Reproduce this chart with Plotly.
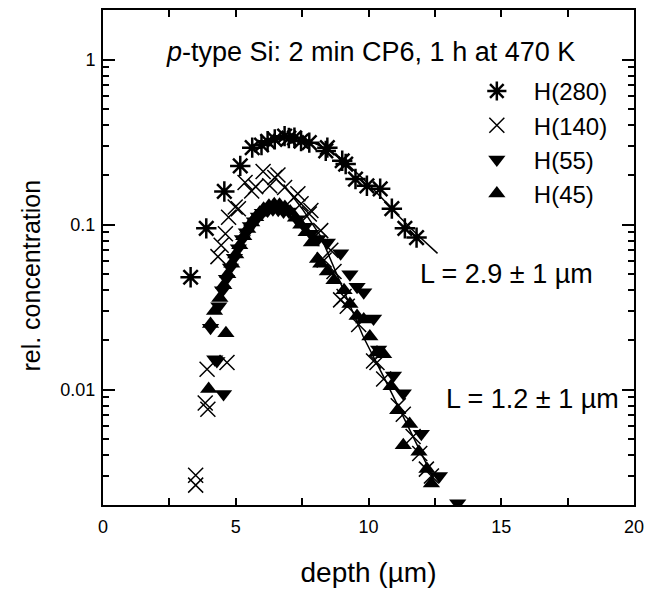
import plotly.graph_objects as go

# H(280) asterisks
h280_x = [3.3, 3.89, 4.57, 5.17, 5.62, 5.97, 6.2, 6.47, 6.84, 7.0, 7.21, 7.46, 7.77, 8.39, 8.45,
          9.01, 9.14, 9.51, 9.94, 10.44, 10.88, 11.37, 11.81]
h280_y = [0.048, 0.095, 0.159, 0.227, 0.293, 0.304, 0.32, 0.329, 0.344, 0.335, 0.336, 0.321, 0.314,
          0.28, 0.293, 0.244, 0.233, 0.189, 0.172, 0.165, 0.125, 0.095, 0.0835]

# H(140) crosses
h140_x = [3.49, 3.49, 3.85, 3.95, 3.92, 4.67, 4.33, 4.45, 4.61, 4.73, 4.98, 5.1, 5.35, 5.6, 5.75,
          6.03, 6.28, 6.47, 6.59, 6.84, 7.21, 7.34, 7.46, 7.77, 7.83, 8.2, 8.33, 8.58, 8.7, 8.95,
          9.08, 9.2, 9.63, 10.19, 10.32, 10.57, 11.12, 11.31, 11.68, 11.93, 12.18, 12.37]
h140_y = [0.00303, 0.00264, 0.0083, 0.0076, 0.0133, 0.0146, 0.064, 0.075, 0.088, 0.111, 0.128, 0.125,
          0.18, 0.16, 0.17, 0.21, 0.172, 0.193, 0.2, 0.168, 0.147, 0.154, 0.134, 0.116, 0.122, 0.092,
          0.061, 0.07, 0.052, 0.035, 0.0367, 0.032, 0.0248, 0.0149, 0.0146, 0.0116, 0.008, 0.0071,
          0.0052, 0.0041, 0.0033, 0.003]

# H(55) down triangles
h55_x = [4.05, 4.21, 4.29, 4.36, 4.54, 4.5, 4.65, 4.8, 4.95, 5.1, 5.25, 5.4, 5.55, 5.7, 5.85, 6.0,
         6.2, 6.4, 6.6, 6.8, 7.0, 7.3, 7.6, 7.83, 8.1, 8.45, 8.95, 9.3, 9.57, 9.82, 10.19, 10.38,
         10.94, 11.31, 11.99, 12.67, 13.36]
h55_y = [0.0237, 0.0153, 0.0149, 0.032, 0.0094, 0.04, 0.047, 0.055, 0.063, 0.072, 0.082, 0.09, 0.098,
         0.105, 0.112, 0.118, 0.122, 0.124, 0.123, 0.12, 0.12, 0.108, 0.097, 0.088, 0.082, 0.078,
         0.067, 0.05, 0.042, 0.039, 0.027, 0.0175, 0.0122, 0.0095, 0.0054, 0.003, 0.00205]

# H(45) up triangles
h45_x = [3.98, 4.05, 4.2, 4.4, 4.63, 4.55, 4.7, 4.85, 5.0, 5.15, 5.3, 5.45, 5.6, 5.75, 5.9, 6.05,
         6.25, 6.45, 6.65, 6.85, 7.05, 7.25, 7.45, 7.65, 7.85, 8.08, 8.2, 8.45, 8.7, 9.08, 9.3,
         9.57, 9.82, 10.05, 10.32, 10.57, 10.85, 11.1, 11.31, 11.55, 11.9, 12.2, 12.37]
h45_y = [0.0101, 0.025, 0.03, 0.036, 0.022, 0.043, 0.05, 0.058, 0.066, 0.075, 0.085, 0.094, 0.103,
         0.111, 0.118, 0.125, 0.13, 0.133, 0.132, 0.128, 0.12, 0.11, 0.1, 0.09, 0.078, 0.062, 0.058,
         0.052, 0.046, 0.04, 0.033, 0.028, 0.0266, 0.021, 0.0168, 0.0164, 0.0105, 0.0075, 0.0046,
         0.0062, 0.0042, 0.0033, 0.0027]

# fit curves
fit1_x = [6.3, 7.0, 7.7, 8.4, 9.1, 9.8, 10.5, 11.2, 11.9, 12.6]
fit1_y = [0.335, 0.34, 0.325, 0.29, 0.24, 0.19, 0.145, 0.11, 0.085, 0.067]
fit2_x = [6.8, 7.5, 8.2, 9.0, 9.8, 10.6, 11.4, 12.45]
fit2_y = [0.175, 0.125, 0.085, 0.042, 0.021, 0.0117, 0.0064, 0.0029]

x_ticks = [0, 5, 10, 15, 20]
y_ticks = [0.01, 0.1, 1]
y_ticktext = ["0.01", "0.1", "1"]
y_minor = [0.003, 0.004, 0.005, 0.006, 0.007, 0.008, 0.009,
           0.02, 0.03, 0.04, 0.05, 0.06, 0.07, 0.08, 0.09,
           0.2, 0.3, 0.4, 0.5, 0.6, 0.7, 0.8, 0.9]
y_range = [-2.699, 0.301]

font = "Liberation Sans, Arial, Helvetica, sans-serif"

fig = go.Figure()

fig.add_trace(go.Scatter(x=fit1_x, y=fit1_y, mode="lines", line=dict(color="black", width=1.5),
                         showlegend=False, hoverinfo="skip"))
fig.add_trace(go.Scatter(x=fit2_x, y=fit2_y, mode="lines", line=dict(color="black", width=1.5),
                         showlegend=False, hoverinfo="skip"))

fig.add_trace(go.Scatter(x=h280_x, y=h280_y, mode="markers", name="H(280)",
                         marker=dict(symbol="asterisk-open", size=17, color="black",
                                     line=dict(width=2.5, color="black"))))
fig.add_trace(go.Scatter(x=h140_x, y=h140_y, mode="markers", name="H(140)",
                         marker=dict(symbol="x-thin-open", size=15, color="black",
                                     line=dict(width=1.5, color="black"))))
fig.add_trace(go.Scatter(x=h55_x, y=h55_y, mode="markers", name="H(55)",
                         marker=dict(symbol="triangle-down", size=15, color="black")))
fig.add_trace(go.Scatter(x=h45_x, y=h45_y, mode="markers", name="H(45)",
                         marker=dict(symbol="triangle-up", size=15, color="black")))

axis_common = dict(showline=True, linewidth=2, linecolor="black", mirror="ticks",
                   ticks="inside", tickcolor="black", tickwidth=1.5, showgrid=False,
                   zeroline=False, tickfont=dict(family=font, size=18, color="black"))

fig.update_xaxes(range=[0, 20], tickvals=x_ticks, ticklen=7, ticklabelstandoff=4,
                 minor=dict(dtick=2.5, ticks="inside", ticklen=7, tickcolor="black", tickwidth=1.5),
                 title=dict(text="depth (µm)", font=dict(family=font, size=28, color="black"), standoff=27),
                 **axis_common)
fig.update_yaxes(type="log", range=y_range, tickvals=y_ticks, ticktext=y_ticktext, ticklen=12,
                 ticklabelstandoff=2,
                 minor=dict(tickvals=y_minor, ticks="inside", ticklen=6, tickcolor="black", tickwidth=1.5),
                 **axis_common)

# y title sits a little below the axis middle in the original, so place it by hand
fig.add_annotation(x=-0.136, y=0.463, xref="paper", yref="paper", xanchor="center", yanchor="middle",
                   text="rel. concentration", textangle=-90, showarrow=False,
                   font=dict(family=font, size=25, color="black"))
fig.add_annotation(x=0.1155, y=0.916, xref="paper", yref="paper", xanchor="left", yanchor="middle",
                   text="<i>p</i>-type Si: 2 min CP6, 1 h at 470 K", showarrow=False,
                   font=dict(family=font, size=27, color="black"))
fig.add_annotation(x=0.593, y=0.467, xref="paper", yref="paper", xanchor="left", yanchor="middle",
                   text="L = 2.9 ± 1 µm", showarrow=False,
                   font=dict(family=font, size=27, color="black"))
fig.add_annotation(x=0.643, y=0.2144, xref="paper", yref="paper", xanchor="left", yanchor="middle",
                   text="L = 1.2 ± 1 µm", showarrow=False,
                   font=dict(family=font, size=27, color="black"))

fig.update_layout(
    width=652, height=591,
    margin=dict(l=103, r=12, t=8, b=84),
    paper_bgcolor="white", plot_bgcolor="white",
    showlegend=True,
    legend=dict(x=0.672, y=0.881, xanchor="left", yanchor="top", bgcolor="rgba(0,0,0,0)",
                font=dict(family=font, size=24, color="black"), itemwidth=64),
)

# the page body has an 8px default margin; drop it so the figure sits at the top-left corner
fig.write_html("out.html", config={"displayModeBar": False},
               post_script="document.body.style.margin='0';")
